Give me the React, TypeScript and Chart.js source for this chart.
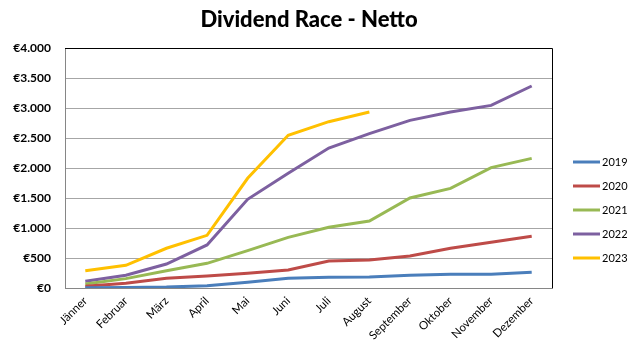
import React, { useEffect, useRef } from "react";
import { Chart, registerables } from "chart.js";

Chart.register(...registerables);

const months = ["Jänner", "Februar", "März", "April", "Mai", "Juni", "Juli", "August", "September", "Oktober", "November", "Dezember"];
const years = ["2019", "2020", "2021", "2022", "2023"];
const colors = ["#4a7ebb", "#be4b48", "#98b954", "#7d60a0", "#ffc000"];
const titleText = "Dividend Race - Netto";

const v2019 = [5, 8, 15, 39, 94, 161, 178, 183, 211, 228, 228, 261];
const v2020 = [28, 78, 161, 200, 244, 300, 450, 467, 533, 661, 761, 861];
const v2021 = [67, 156, 289, 411, 622, 844, 1011, 1117, 1500, 1661, 2006, 2161];
const v2022 = [112, 212, 400, 717, 1478, 1911, 2333, 2572, 2794, 2933, 3044, 3367];
const v2023 = [288, 378, 662, 878, 1828, 2545, 2772, 2933];

const series = [v2019, v2020, v2021, v2022, v2023];

const fmt = (v: number) => "€" + String(Math.round(v)).replace(/\B(?=(\d{3})+(?!\d))/g, ".");

const borderPlugin = {
  id: "plotBorder",
  afterDatasetsDraw(chart: any) {
    const { ctx, chartArea } = chart;
    const { left, right, top, bottom } = chartArea;
    ctx.save();
    ctx.lineWidth = 1;
    ctx.strokeStyle = "#868686";
    ctx.beginPath();
    ctx.moveTo(Math.round(left) + 0.5, top);
    ctx.lineTo(Math.round(left) + 0.5, bottom);
    ctx.moveTo(left, Math.round(bottom) + 0.5);
    ctx.lineTo(right, Math.round(bottom) + 0.5);
    ctx.stroke();
    ctx.strokeStyle = "#000000";
    ctx.beginPath();
    ctx.moveTo(left, Math.round(top) + 0.5);
    ctx.lineTo(Math.round(right) + 0.5, Math.round(top) + 0.5);
    ctx.lineTo(Math.round(right) + 0.5, Math.round(bottom) + 0.5);
    ctx.stroke();
    ctx.restore();
  },
};

const titlePlugin = {
  id: "topTitle",
  afterDraw(chart: any) {
    const { ctx } = chart;
    ctx.save();
    ctx.fillStyle = "#000";
    ctx.font = "900 22px Lato";
    ctx.textAlign = "center";
    ctx.textBaseline = "alphabetic";
    ctx.fillText(titleText, 309, 27);
    ctx.restore();
  },
};

const legendPlugin = {
  id: "sideLegend",
  afterDraw(chart: any) {
    const { ctx, chartArea } = chart;
    ctx.save();
    chart.data.datasets.forEach((ds: any, i: number) => {
      const y = chartArea.top + 114 + i * 24;
      const x0 = chartArea.right + 21;
      ctx.strokeStyle = ds.borderColor;
      ctx.lineWidth = 3;
      ctx.beginPath();
      ctx.moveTo(x0, y);
      ctx.lineTo(x0 + 27, y);
      ctx.stroke();
      ctx.fillStyle = "#000";
      ctx.font = "11px Lato";
      ctx.textBaseline = "middle";
      ctx.textAlign = "left";
      ctx.fillText(ds.label, x0 + 29, y + 0.5);
    });
    ctx.restore();
  },
};

export default function App() {
  const ref = useRef<HTMLCanvasElement>(null);
  useEffect(() => {
    if (!ref.current) return;
    const chart = new Chart(ref.current, {
      type: "line",
      data: {
        labels: months,
        datasets: years.map((y, i) => ({
          label: y,
          data: series[i],
          borderColor: colors[i],
          backgroundColor: colors[i],
          borderWidth: 3,
          pointRadius: 0,
          tension: 0,
          fill: false,
        })),
      },
      options: {
        animation: false,
        responsive: false,
        layout: { padding: { top: 48, right: 83, left: 0, bottom: 0 } },
        plugins: {
          legend: { display: false },
          tooltip: { enabled: false },
          title: { display: false },
        },
        scales: {
          x: {
            offset: true,
            grid: { display: false, drawTicks: false },
            border: { display: false },
            ticks: {
              color: "#000",
              font: { family: "Lato", size: 11.5 },
              minRotation: 45,
              maxRotation: 45,
              autoSkip: false,
              padding: 6,
            },
            afterFit(scale: any) {
              scale.height = 68;
            },
          },
          y: {
            min: 0,
            max: 4000,
            grid: { color: "#a6a6a6", drawTicks: false, lineWidth: 1 },
            border: { display: false },
            ticks: {
              stepSize: 250,
              color: "#000",
              font: { family: "Lato", size: 12, weight: "bold" },
              padding: 14,
              callback: (v: any) => (Number(v) % 500 === 0 ? fmt(Number(v)) : ""),
            },
            afterFit(scale: any) {
              scale.width = 65;
            },
          },
        },
      },
      plugins: [borderPlugin, titlePlugin, legendPlugin],
    });
    return () => chart.destroy();
  }, []);
  return (
    <div style={{ position: "fixed", left: 0, top: 0, width: 635, height: 356, background: "#fff" }}>
      <canvas ref={ref} width={635} height={356} style={{ width: 635, height: 356 }} />
    </div>
  );
}
